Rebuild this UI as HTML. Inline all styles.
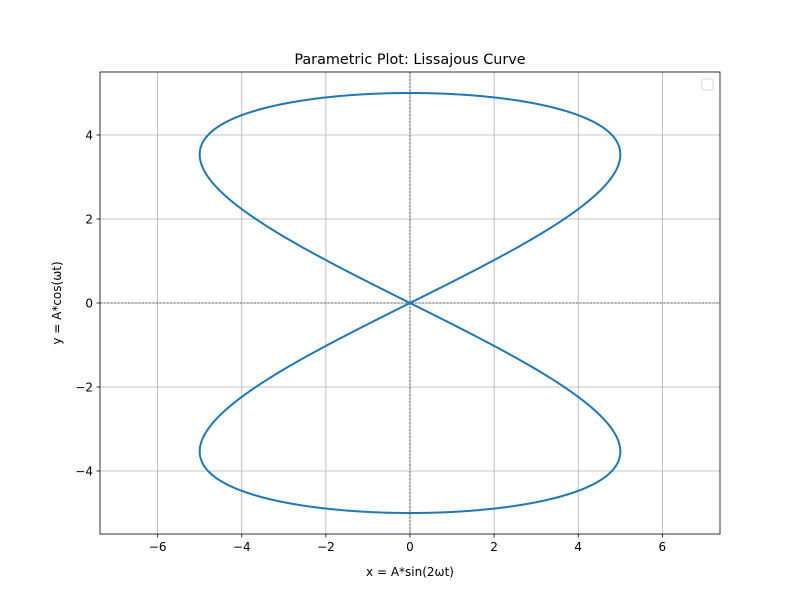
<!DOCTYPE html>
<html><head><meta charset="utf-8"><style>
body{margin:0;background:#fff;}
svg text{font-family:"DejaVu Sans","Liberation Sans",sans-serif;fill:#000;}
</style></head><body>
<svg id="chart" width="800" height="600" xmlns="http://www.w3.org/2000/svg">
<rect width="800" height="600" fill="#fff"/>
<g id="grid"></g>
<g id="ref"></g>
<g id="curve"></g>
<rect x="100" y="72" width="620" height="462" fill="none" stroke="#000" stroke-width="0.8"/>
<g id="ticks"></g>
<text x="410" y="64" font-size="14.4" text-anchor="middle">Parametric Plot: Lissajous Curve</text>
<text x="410" y="576" font-size="12" text-anchor="middle">x = A*sin(2ωt)</text>
<text transform="translate(61,303) rotate(-90)" font-size="12" text-anchor="middle">y = A*cos(ωt)</text>
<rect x="702" y="79" width="11" height="11" rx="2" fill="#fff" stroke="#ccc" stroke-width="0.8"/>
</svg>
<script>
const xTicks=[-6,-4,-2,0,2,4,6];
const yTicks=[-4,-2,0,2,4];
const amplitude=[5];
const frequencies=[2,1]; // x freq, y freq
const sampleCount=[2000];
const xLim=[-7.37,7.37], yLim=[-5.5,5.5];
const L=100,R=720,T=72,B=534;
const sx=v=>L+(v-xLim[0])/(xLim[1]-xLim[0])*(R-L);
const sy=v=>B-(v-yLim[0])/(yLim[1]-yLim[0])*(B-T);
const NS="http://www.w3.org/2000/svg";
function mk(tag,attrs,parent){const e=document.createElementNS(NS,tag);for(const k in attrs)e.setAttribute(k,attrs[k]);parent.appendChild(e);return e;}
const grid=document.getElementById('grid'),ticks=document.getElementById('ticks');
xTicks.forEach(v=>{
 const g=mk('line',{x1:sx(v),x2:sx(v),y1:T,y2:B,stroke:'#b0b0b0','stroke-width':0.8},grid);
 
 
 const t=mk('line',{x1:sx(v),x2:sx(v),y1:B,y2:B+3.5,stroke:'#000','stroke-width':0.8},ticks);
 
 
 const l=mk('text',{x:sx(v),y:B+17,'font-size':12,'text-anchor':'middle'},ticks);
 l.textContent=(v<0?'−':'')+Math.abs(v);
 
 
});
yTicks.forEach(v=>{
 const g=mk('line',{x1:L,x2:R,y1:sy(v),y2:sy(v),stroke:'#b0b0b0','stroke-width':0.8},grid);
 
 
 const t=mk('line',{x1:L-3.5,x2:L,y1:sy(v),y2:sy(v),stroke:'#000','stroke-width':0.8},ticks);
 
 
 const l=mk('text',{x:L-7,y:sy(v)+4.5,'font-size':12,'text-anchor':'end'},ticks);
 l.textContent=(v<0?'−':'')+Math.abs(v);
 
 
});
const ref=document.getElementById('ref');
const h=mk('line',{x1:L,x2:R,y1:sy(0),y2:sy(0),stroke:'#000','stroke-width':0.6,'stroke-dasharray':'2,1.5'},ref);


const vl=mk('line',{x1:sx(0),x2:sx(0),y1:T,y2:B,stroke:'#000','stroke-width':0.6,'stroke-dasharray':'2,1.5'},ref);


const A=amplitude[0],n=sampleCount[0];let d='';
for(let i=0;i<=n;i++){const t=i/n*2*Math.PI;const x=A*Math.sin(frequencies[0]*t),y=A*Math.cos(frequencies[1]*t);d+=(i?'L':'M')+sx(x).toFixed(2)+','+sy(y).toFixed(2);}
const p=mk('path',{d:d,fill:'none',stroke:'#1f77b4','stroke-width':2},document.getElementById('curve'));


</script>
</body></html>
